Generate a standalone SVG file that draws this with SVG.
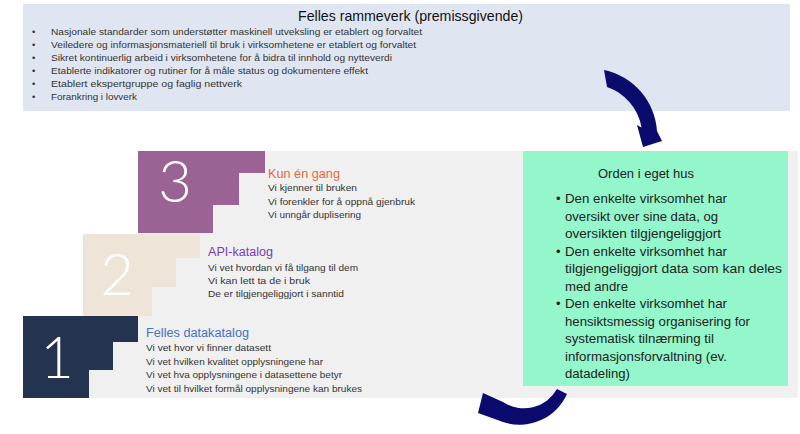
<svg xmlns="http://www.w3.org/2000/svg" width="800" height="434" viewBox="0 0 800 434">
<style>
.t{font-family:"Liberation Sans",Arial,sans-serif;fill:#333333}
.b{font-size:9.3px}
.s{font-size:9.8px}
.g{font-size:13px;fill:#222}
.h{font-size:12.5px}
.num{font-family:Lato,"Liberation Sans",sans-serif;font-weight:300;font-size:58px;fill:#ffffff;text-anchor:middle}
.arr{fill:#0B0B6E}
</style>
<rect width="800" height="434" fill="#ffffff"/>
<g id="rammeverk">
<rect x="23" y="4" width="767" height="107" fill="#E0E6F1"/>
<text class="t" x="298" y="21" font-size="15" fill="#111" textLength="225" lengthAdjust="spacingAndGlyphs" style="fill:#111">Felles rammeverk (premissgivende)</text>
<g class="t b">
<text x="32" y="35">•</text><text x="51" y="35" textLength="371" lengthAdjust="spacingAndGlyphs">Nasjonale standarder som understøtter maskinell utveksling er etablert og forvaltet</text>
<text x="32" y="48">•</text><text x="51" y="48" textLength="365" lengthAdjust="spacingAndGlyphs">Veiledere og informasjonsmateriell til bruk i virksomhetene er etablert og forvaltet</text>
<text x="32" y="61">•</text><text x="51" y="61" textLength="341" lengthAdjust="spacingAndGlyphs">Sikret kontinuerlig arbeid i virksomhetene for å bidra til innhold og nytteverdi</text>
<text x="32" y="74">•</text><text x="51" y="74" textLength="317" lengthAdjust="spacingAndGlyphs">Etablerte indikatorer og rutiner for å måle status og dokumentere effekt</text>
<text x="32" y="87">•</text><text x="51" y="87" textLength="191" lengthAdjust="spacingAndGlyphs">Etablert ekspertgruppe og faglig nettverk</text>
<text x="32" y="100">•</text><text x="51" y="100" textLength="86" lengthAdjust="spacingAndGlyphs">Forankring i lovverk</text>
</g>
</g>
<g id="bakgrunn">
<polygon points="138,151 798,151 798,398 23,398 23,316 83,316 83,234 138,234" fill="#F0F0F0"/>
</g>
<g id="steg3">
<polygon points="138,151 265,151 265,173 239,173 239,205 213,205 213,233 138,233" fill="#9B6394"/>
<text class="num" x="175" y="202">3</text>
<text class="t h" x="268" y="177.5" style="fill:#F0643C" textLength="72" lengthAdjust="spacingAndGlyphs">Kun én gang</text>
<g class="t s">
<text x="268" y="191" textLength="89" lengthAdjust="spacingAndGlyphs">Vi kjenner til bruken</text>
<text x="268" y="204.5" textLength="147" lengthAdjust="spacingAndGlyphs">Vi forenkler for å oppnå gjenbruk</text>
<text x="268" y="218" textLength="93" lengthAdjust="spacingAndGlyphs">Vi unngår duplisering</text>
</g>
</g>
<g id="steg2">
<polygon points="83,234 200,234 200,258 176,258 176,287 152,287 152,316 83,316" fill="#EEE5D8"/>
<text class="num" x="117" y="295">2</text>
<text class="t h" x="208" y="256" style="fill:#7B3BB5" textLength="65" lengthAdjust="spacingAndGlyphs">API-katalog</text>
<g class="t s">
<text x="208" y="270.5" textLength="150" lengthAdjust="spacingAndGlyphs">Vi vet hvordan vi få tilgang til dem</text>
<text x="208" y="283.5" textLength="102" lengthAdjust="spacingAndGlyphs">Vi kan lett ta de i bruk</text>
<text x="208" y="296.5" textLength="136" lengthAdjust="spacingAndGlyphs">De er tilgjengeliggjort i sanntid</text>
</g>
</g>
<g id="steg1">
<polygon points="23,316 138,316 138,342 113,342 113,370 89,370 89,398 23,398" fill="#243450"/>
<text class="num" x="57" y="378">1</text>
<text class="t h" x="146" y="336.5" style="fill:#4472C4" textLength="103" lengthAdjust="spacingAndGlyphs">Felles datakatalog</text>
<g class="t s">
<text x="146" y="350.5" textLength="125" lengthAdjust="spacingAndGlyphs">Vi vet hvor vi finner datasett</text>
<text x="146" y="364.5" textLength="177" lengthAdjust="spacingAndGlyphs">Vi vet hvilken kvalitet opplysningene har</text>
<text x="146" y="378" textLength="196" lengthAdjust="spacingAndGlyphs">Vi vet hva opplysningene i datasettene betyr</text>
<text x="146" y="391.5" textLength="216" lengthAdjust="spacingAndGlyphs">Vi vet til hvilket formål opplysningene kan brukes</text>
</g>
</g>
<g id="orden">
<rect x="523" y="151" width="265" height="235" fill="#94F6CB"/>
<text class="t h" x="598" y="177.5" style="fill:#222" textLength="96" lengthAdjust="spacingAndGlyphs">Orden i eget hus</text>
<g class="t g">
<text x="556" y="203">•</text><text x="565" y="203" textLength="162" lengthAdjust="spacingAndGlyphs">Den enkelte virksomhet har</text>
<text x="565" y="220.5" textLength="153" lengthAdjust="spacingAndGlyphs">oversikt over sine data, og</text>
<text x="565" y="238" textLength="156" lengthAdjust="spacingAndGlyphs">oversikten tilgjengeliggjort</text>
<text x="556" y="255.5">•</text><text x="565" y="255.5" textLength="162" lengthAdjust="spacingAndGlyphs">Den enkelte virksomhet har</text>
<text x="565" y="273" textLength="217" lengthAdjust="spacingAndGlyphs">tilgjengeliggjort data som kan deles</text>
<text x="565" y="290.5" textLength="63" lengthAdjust="spacingAndGlyphs">med andre</text>
<text x="556" y="308">•</text><text x="565" y="308" textLength="162" lengthAdjust="spacingAndGlyphs">Den enkelte virksomhet har</text>
<text x="565" y="325.5" textLength="185" lengthAdjust="spacingAndGlyphs">hensiktsmessig organisering for</text>
<text x="565" y="343" textLength="149" lengthAdjust="spacingAndGlyphs">systematisk tilnærming til</text>
<text x="565" y="360.5" textLength="162" lengthAdjust="spacingAndGlyphs">informasjonsforvaltning (ev.</text>
<text x="565" y="378" textLength="65" lengthAdjust="spacingAndGlyphs">datadeling)</text>
</g>
</g>
<g id="connectors">
<path class="arr" d="M604,70 A67,67 0 0 1 657,131 L662,141 L643,147 L637,125 L641.5,127.5 A52,52 0 0 0 607,87 Z"/>
<path class="arr" d="M557,389 A38,38 0 0 1 503,402 L483,393 L478,413 L503,422 A52,52 0 0 0 567,394 Z"/>
</g>
</svg>
